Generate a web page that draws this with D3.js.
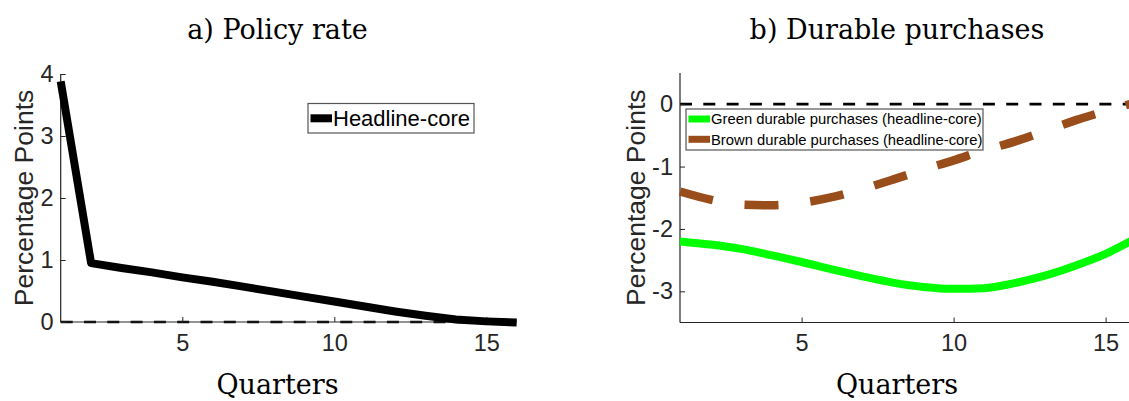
<!DOCTYPE html>
<html>
<head>
<meta charset="utf-8">
<script src="https://cdn.jsdelivr.net/npm/d3@7"></script>
<style>
  html, body { margin: 0; padding: 0; background: #fff; }
  svg { display: block; }
</style>
</head>
<body>
<svg id="chart" width="1129" height="401"></svg>
<script>
// ---------- data ----------
const quarters = [1,2,3,4,5,6,7,8,9,10,11,12,13,14,15,16];
const policyRate = [3.88,0.95,0.87,0.80,0.72,0.65,0.57,0.49,0.41,0.33,0.25,0.17,0.10,0.04,0.01,-0.01];
const greenDurables = [-2.20,-2.25,-2.32,-2.42,-2.53,-2.65,-2.76,-2.86,-2.93,-2.96,-2.95,-2.87,-2.75,-2.59,-2.40,-2.15];
const brownDurables = [-1.40,-1.53,-1.61,-1.62,-1.58,-1.49,-1.36,-1.21,-1.05,-0.90,-0.74,-0.60,-0.43,-0.26,-0.11,0.03];
const xTicks = [5,10,15];
const yTicksA = [0,1,2,3,4];
const yTicksB = [-3,-2,-1,0];
const titles = ["a) Policy rate", "b) Durable purchases"];
const xLabel = "Quarters";
const yLabel = "Percentage Points";
const legendA = ["Headline-core"];
const legendB = ["Green durable purchases (headline-core)", "Brown durable purchases (headline-core)"];

// ---------- setup ----------
const svg = d3.select("#chart");
const axisColor = "#262626";
const sans = "'Liberation Sans', Arial, sans-serif";
const serif = "'DejaVu Serif', serif";

function panel(cfg) {
  const g = svg.append("g");
  const x = d3.scaleLinear().domain([1,16]).range(cfg.xr);
  const y = d3.scaleLinear().domain(cfg.yd).range(cfg.yr);

  // zero dashed line
  g.append("line")
    .attr("x1", x(1)).attr("x2", x(16))
    .attr("y1", y(0)).attr("y2", y(0))
    .attr("stroke", "#000").attr("stroke-width", 2.7)
    .attr("stroke-dasharray", "12,11.3");

  // axes
  const xa = g.append("g").attr("transform", `translate(0,${cfg.yr[0]})`)
    .call(d3.axisBottom(x).tickValues(xTicks).tickSize(-5).tickPadding(12).tickFormat(d => String(d)));
  const ya = g.append("g").attr("transform", `translate(${cfg.xr[0]},0)`)
    .call(d3.axisLeft(y).tickValues(cfg.yTicks).tickSize(-5).tickPadding(7).tickFormat(d => String(d)));
  [xa, ya].forEach(a => {
    a.select(".domain").attr("stroke", axisColor).attr("stroke-width", 1.2);
    a.selectAll(".tick line").attr("stroke", axisColor).attr("stroke-width", 1);
    a.selectAll(".tick text").attr("fill", axisColor)
      .style("font-family", sans).style("font-size", "23.5px");
  });
  xa.select(".domain").attr("d", `M${cfg.xr[0]},0H${cfg.xr[1]}`);
  ya.select(".domain").attr("d", `M0,${cfg.yr[0]}V${cfg.yr[1]}`);

  // series
  cfg.series.forEach(s => {
    const line = d3.line().x((d,i) => x(quarters[i])).y(d => y(d))
      .curve(s.curve || d3.curveLinear);
    g.append("path").datum(s.values)
      .attr("d", line)
      .attr("fill", "none")
      .attr("stroke", s.color)
      .attr("stroke-width", s.width)
      .attr("stroke-dasharray", s.dash || null)
      .attr("stroke-linejoin", "round");
  });

  // titles and labels
  g.append("text").attr("x", cfg.cx).attr("y", 39).attr("text-anchor", "middle")
    .style("font-family", serif).style("font-size", "27px").attr("fill", "#000")
    .text(cfg.title);
  g.append("text").attr("x", cfg.cx).attr("y", 394).attr("text-anchor", "middle")
    .style("font-family", serif).style("font-size", "27px").attr("fill", "#000")
    .text(xLabel);
  g.append("text")
    .attr("transform", `translate(${cfg.ylx},${(cfg.yr[0]+cfg.yr[1])/2}) rotate(-90)`)
    .attr("text-anchor", "middle")
    .style("font-family", sans).style("font-size", "26.5px").attr("fill", axisColor)
    .text(yLabel);

  // legend
  const L = cfg.legend;
  const lg = g.append("g");
  lg.append("rect").attr("x", L.x).attr("y", L.y).attr("width", L.w).attr("height", L.h)
    .attr("fill", "#fff").attr("stroke", "#555").attr("stroke-width", 1.2);
  L.items.forEach((it, i) => {
    const cy = L.y + L.first + i * L.step;
    lg.append("line").attr("x1", L.x + 2.5).attr("x2", L.x + L.sw)
      .attr("y1", cy).attr("y2", cy)
      .attr("stroke", it.color).attr("stroke-width", L.lw);
    lg.append("text").attr("x", L.x + L.sw + 1).attr("y", cy + L.fs * 0.36)
      .style("font-family", sans).style("font-size", L.fs + "px").attr("fill", "#000")
      .text(it.label);
  });
}

panel({
  xr: [60.7, 516.7], yr: [322, 74], yd: [0, 4], yTicks: yTicksA,
  cx: 277.5, ylx: 33, title: titles[0],
  series: [{ values: policyRate, color: "#000", width: 8 }],
  legend: { x: 308, y: 103.5, w: 166, h: 29.5, first: 14.8, step: 0, sw: 24, lw: 8, fs: 22,
    items: [{ label: legendA[0], color: "#000" }] }
});

panel({
  xr: [680, 1136], yr: [322.5, 73], yd: [-3.5, 0.5], yTicks: yTicksB,
  cx: 897, ylx: 645, title: titles[1],
  series: [
    { values: greenDurables, color: "#00ff00", width: 8, curve: d3.curveMonotoneX },
    { values: brownDurables, color: "#994d1a", width: 8.5, dash: "34,32", curve: d3.curveMonotoneX }
  ],
  legend: { x: 686, y: 109, w: 297, h: 41, first: 10, step: 20.3, sw: 24, lw: 7, fs: 14.8,
    items: [{ label: legendB[0], color: "#00ff00" }, { label: legendB[1], color: "#994d1a" }] }
});
</script>
</body>
</html>
